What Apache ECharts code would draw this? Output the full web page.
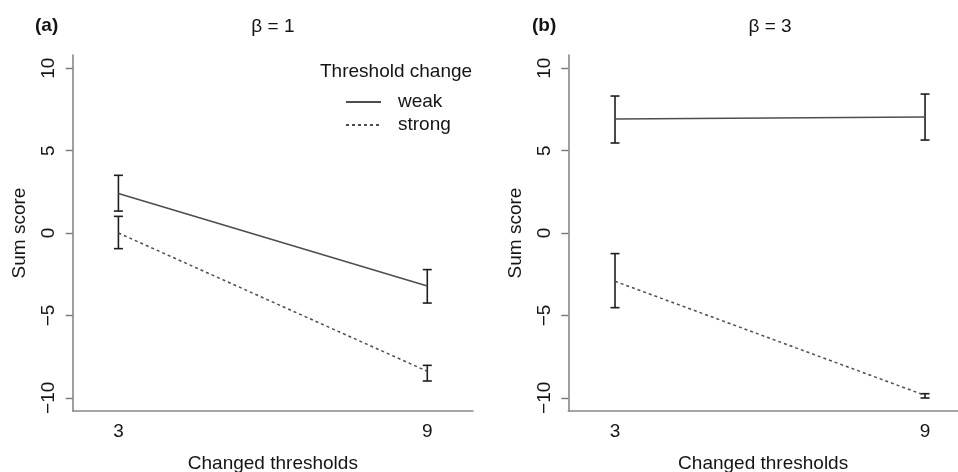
<!DOCTYPE html>
<html>
<head>
<meta charset="utf-8">
<script src="https://cdn.jsdelivr.net/npm/echarts@6/dist/echarts.min.js"></script>
<style>
html,body{margin:0;padding:0;background:#fff;}
#chart{width:958px;height:472px;}
</style>
</head>
<body>
<div id="chart"></div>
<script>
// ---- data ----
const thresholds = [3, 9];
const yTicks = [-10, -5, 0, 5, 10];
const xTicks = [3, 9];

// beta = 1
const weakB1 = [2.40, -3.22];
const weakB1Lo = [1.33, -4.25];
const weakB1Hi = [3.50, -2.22];
const strongB1 = [0.00, -8.39];
const strongB1Lo = [-0.95, -8.98];
const strongB1Hi = [1.01, -8.03];

// beta = 3
const weakB3 = [6.92, 7.04];
const weakB3Lo = [5.46, 5.64];
const weakB3Hi = [8.31, 8.43];
const strongB3 = [-2.93, -9.85];
const strongB3Lo = [-4.53, -10.01];
const strongB3Hi = [-1.25, -9.75];

const FONT = '"Liberation Sans", Arial, Helvetica, sans-serif';
const FS = 19;
const TXT = '#141414';

function pts(vals) { return thresholds.map((x, i) => [x, vals[i]]); }
function bars(lo, hi) { return thresholds.map((x, i) => [x, lo[i], hi[i]]); }

function errRender(params, api) {
  const x = api.value(0);
  const top = api.coord([x, api.value(2)]);
  const bot = api.coord([x, api.value(1)]);
  const hw = 4.5;
  const st = { stroke: '#1e1e1e', lineWidth: 1.6 };
  return {
    type: 'group',
    children: [
      { type: 'line', shape: { x1: top[0], y1: top[1], x2: bot[0], y2: bot[1] }, style: st },
      { type: 'line', shape: { x1: top[0] - hw, y1: top[1], x2: top[0] + hw, y2: top[1] }, style: st },
      { type: 'line', shape: { x1: bot[0] - hw, y1: bot[1], x2: bot[0] + hw, y2: bot[1] }, style: st }
    ]
  };
}

function xAxisCfg(idx, min, max) {
  return {
    type: 'value', gridIndex: idx, min: min, max: max,
    name: 'Changed thresholds', nameLocation: 'middle', nameGap: 43,
    nameTextStyle: { fontSize: FS, fontFamily: FONT, color: TXT },
    axisLine: { show: true, onZero: false, lineStyle: { color: '#888', width: 1.6 } },
    axisTick: { show: false },
    axisLabel: { customValues: xTicks, fontSize: FS, fontFamily: FONT, color: TXT, margin: 11 },
    splitLine: { show: false }
  };
}
function yAxisCfg(idx) {
  return {
    type: 'value', gridIndex: idx, min: -10.8, max: 10.8,
    name: 'Sum score', nameLocation: 'middle', nameGap: 43, nameRotate: 90,
    nameTextStyle: { fontSize: FS, fontFamily: FONT, color: TXT },
    axisLine: { show: true, onZero: false, lineStyle: { color: '#888', width: 1.6 } },
    axisTick: { show: true, customValues: yTicks, length: 7, lineStyle: { color: '#777', width: 1.4 } },
    axisLabel: {
      customValues: yTicks, rotate: 90, fontSize: FS, fontFamily: FONT, color: TXT, margin: 14,
      formatter: v => String(v).replace('-', '\u2212')
    },
    splitLine: { show: false }
  };
}

const solid = { color: '#4d4d4d', width: 1.6, type: 'solid' };
const dashed = { color: '#4d4d4d', width: 1.5, type: [3, 3] };

const option = {
  animation: false,
  backgroundColor: '#fff',
  grid: [
    { left: 72.7, top: 55, width: 400.3, height: 356, outerBoundsMode: 'none', containLabel: false },
    { left: 568.3, top: 55, right: 0, height: 356, outerBoundsMode: 'none', containLabel: false }
  ],
  xAxis: [xAxisCfg(0, 2.112, 9.888), xAxisCfg(1, 2.096, 9.638)],
  yAxis: [yAxisCfg(0), yAxisCfg(1)],
  legend: {
    data: ['weak', 'strong'],
    orient: 'vertical', left: 345, top: 92.5, padding: 0,
    itemWidth: 35, itemHeight: 14, itemGap: 4,
    itemStyle: { opacity: 0, borderWidth: 0 },
    textStyle: { fontSize: FS, fontFamily: FONT, color: TXT, padding: [0, 0, 0, 12] },
    selectedMode: false
  },
  graphic: [
    { type: 'text', x: 35, y: 26, style: { text: '(a)', font: 'bold 19px ' + FONT, fill: TXT, textVerticalAlign: 'middle' } },
    { type: 'text', x: 532, y: 26, style: { text: '(b)', font: 'bold 19px ' + FONT, fill: TXT, textVerticalAlign: 'middle' } },
    { type: 'text', x: 272.9, y: 27, style: { text: 'β = 1', font: '19px ' + FONT, fill: TXT, textAlign: 'center', textVerticalAlign: 'middle' } },
    { type: 'text', x: 770, y: 27, style: { text: 'β = 3', font: '19px ' + FONT, fill: TXT, textAlign: 'center', textVerticalAlign: 'middle' } },
    { type: 'text', x: 320, y: 72, style: { text: 'Threshold change', font: '19px ' + FONT, fill: TXT, textVerticalAlign: 'middle' } }
  ],
  series: [
    { name: 'weak', type: 'line', xAxisIndex: 0, yAxisIndex: 0, data: pts(weakB1), symbol: 'none', lineStyle: solid, itemStyle: { color: '#4d4d4d' } },
    { name: 'strong', type: 'line', xAxisIndex: 0, yAxisIndex: 0, data: pts(strongB1), symbol: 'none', lineStyle: dashed, itemStyle: { color: '#4d4d4d' } },
    { name: 'weak-err-b1', type: 'custom', xAxisIndex: 0, yAxisIndex: 0, data: bars(weakB1Lo, weakB1Hi), renderItem: errRender, encode: { x: 0, y: [1, 2] } },
    { name: 'strong-err-b1', type: 'custom', xAxisIndex: 0, yAxisIndex: 0, data: bars(strongB1Lo, strongB1Hi), renderItem: errRender, encode: { x: 0, y: [1, 2] } },
    { name: 'weak', type: 'line', xAxisIndex: 1, yAxisIndex: 1, data: pts(weakB3), symbol: 'none', lineStyle: solid, itemStyle: { color: '#4d4d4d' } },
    { name: 'strong', type: 'line', xAxisIndex: 1, yAxisIndex: 1, data: pts(strongB3), symbol: 'none', lineStyle: dashed, itemStyle: { color: '#4d4d4d' } },
    { name: 'weak-err-b3', type: 'custom', xAxisIndex: 1, yAxisIndex: 1, data: bars(weakB3Lo, weakB3Hi), renderItem: errRender, encode: { x: 0, y: [1, 2] } },
    { name: 'strong-err-b3', type: 'custom', xAxisIndex: 1, yAxisIndex: 1, data: bars(strongB3Lo, strongB3Hi), renderItem: errRender, encode: { x: 0, y: [1, 2] } }
  ]
};

const chart = echarts.init(document.getElementById('chart'), null, { renderer: 'canvas' });
chart.setOption(option);
</script>
</body>
</html>
